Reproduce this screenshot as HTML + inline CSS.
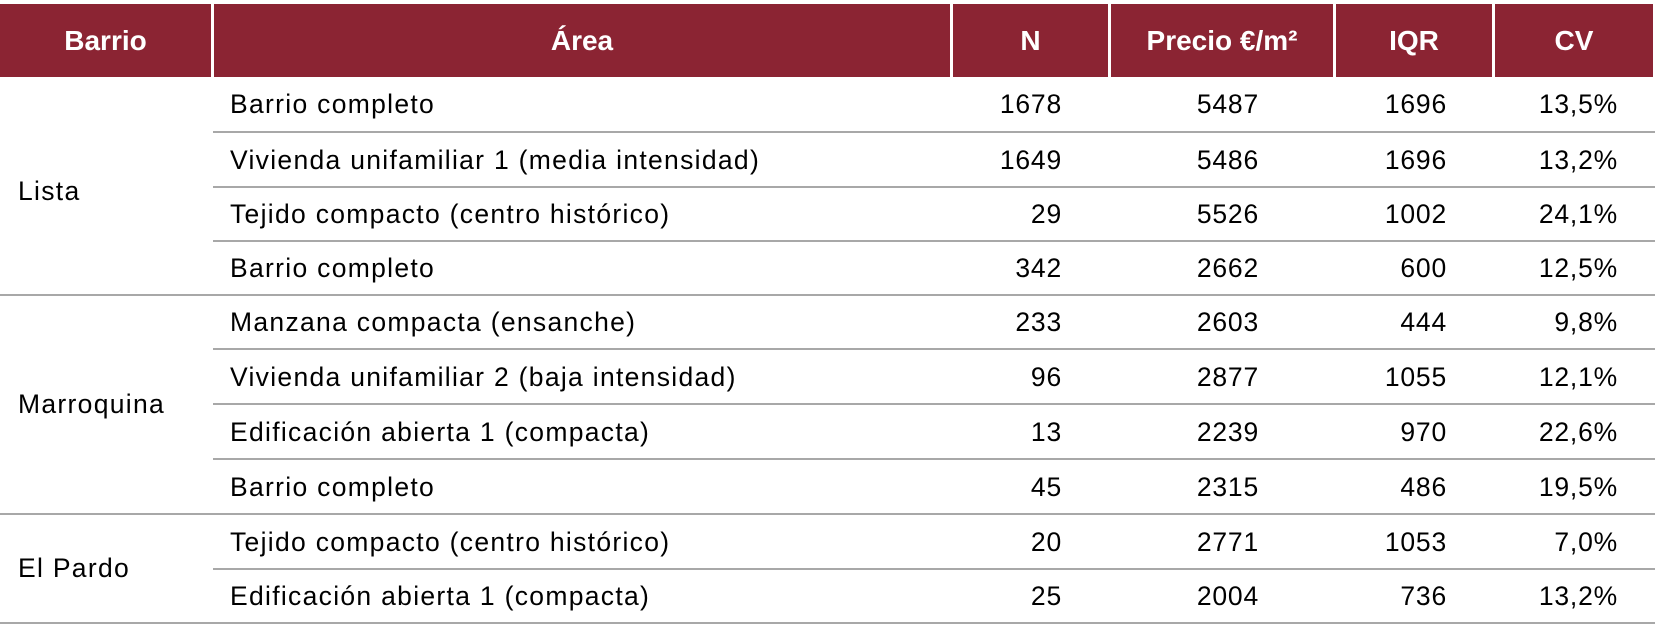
<!DOCTYPE html>
<html><head><meta charset="utf-8"><style>
body{margin:0;width:1655px;height:643px;background:#fff;position:relative;overflow:hidden;font-family:"Liberation Sans",sans-serif;}
.h{position:absolute;top:4px;height:73px;background:#8b2433;color:#fff;font-weight:bold;font-size:28px;line-height:73px;text-align:center;}
.t{position:absolute;font-size:26.5px;color:#000;line-height:30px;white-space:nowrap;letter-spacing:1.3px;}
.r{text-align:right;letter-spacing:0.8px;}
.l{position:absolute;height:2px;background:#a8a8a8;}
</style></head><body>
<div class="h" style="left:0;width:211px">Barrio</div>
<div class="h" style="left:214px;width:736px">Área</div>
<div class="h" style="left:953px;width:155px">N</div>
<div class="h" style="left:1111px;width:222px">Precio €/m²</div>
<div class="h" style="left:1336px;width:156px">IQR</div>
<div class="h" style="left:1495px;width:158px">CV</div>
<div id="rows"></div>
<script>
var L=[131,186,240,294,348,403,458,513,568,622];
var d=[["Barrio completo",1678,5487,1696,"13,5%"],["Vivienda unifamiliar 1 (media intensidad)",1649,5486,1696,"13,2%"],["Tejido compacto (centro histórico)",29,5526,1002,"24,1%"],["Barrio completo",342,2662,600,"12,5%"],["Manzana compacta (ensanche)",233,2603,444,"9,8%"],["Vivienda unifamiliar 2 (baja intensidad)",96,2877,1055,"12,1%"],["Edificación abierta 1 (compacta)",13,2239,970,"22,6%"],["Barrio completo",45,2315,486,"19,5%"],["Tejido compacto (centro histórico)",20,2771,1053,"7,0%"],["Edificación abierta 1 (compacta)",25,2004,736,"13,2%"]];
var h="",prev=77;
for(var i=0;i<d.length;i++){var c=(prev+L[i])/2-15;
h+='<div class="t" style="left:230px;top:'+c+'px">'+d[i][0]+'</div>';
var rs=[1062,1259,1447,1618];
for(var j=1;j<5;j++)h+='<div class="t r" style="right:'+(1655-rs[j-1])+'px;top:'+c+'px">'+d[i][j]+'</div>';
var full=(i==3||i==7||i==9);
h+='<div class="l" style="top:'+L[i]+'px;left:'+(full?0:213)+'px;width:'+(full?1655:1442)+'px"></div>';
prev=L[i]+2;}
h+='<div class="t" style="left:18px;top:176px">Lista</div>';
h+='<div class="t" style="left:18px;top:389px">Marroquina</div>';
h+='<div class="t" style="left:18px;top:553px">El Pardo</div>';
document.getElementById("rows").innerHTML=h;
</script>
</body></html>
